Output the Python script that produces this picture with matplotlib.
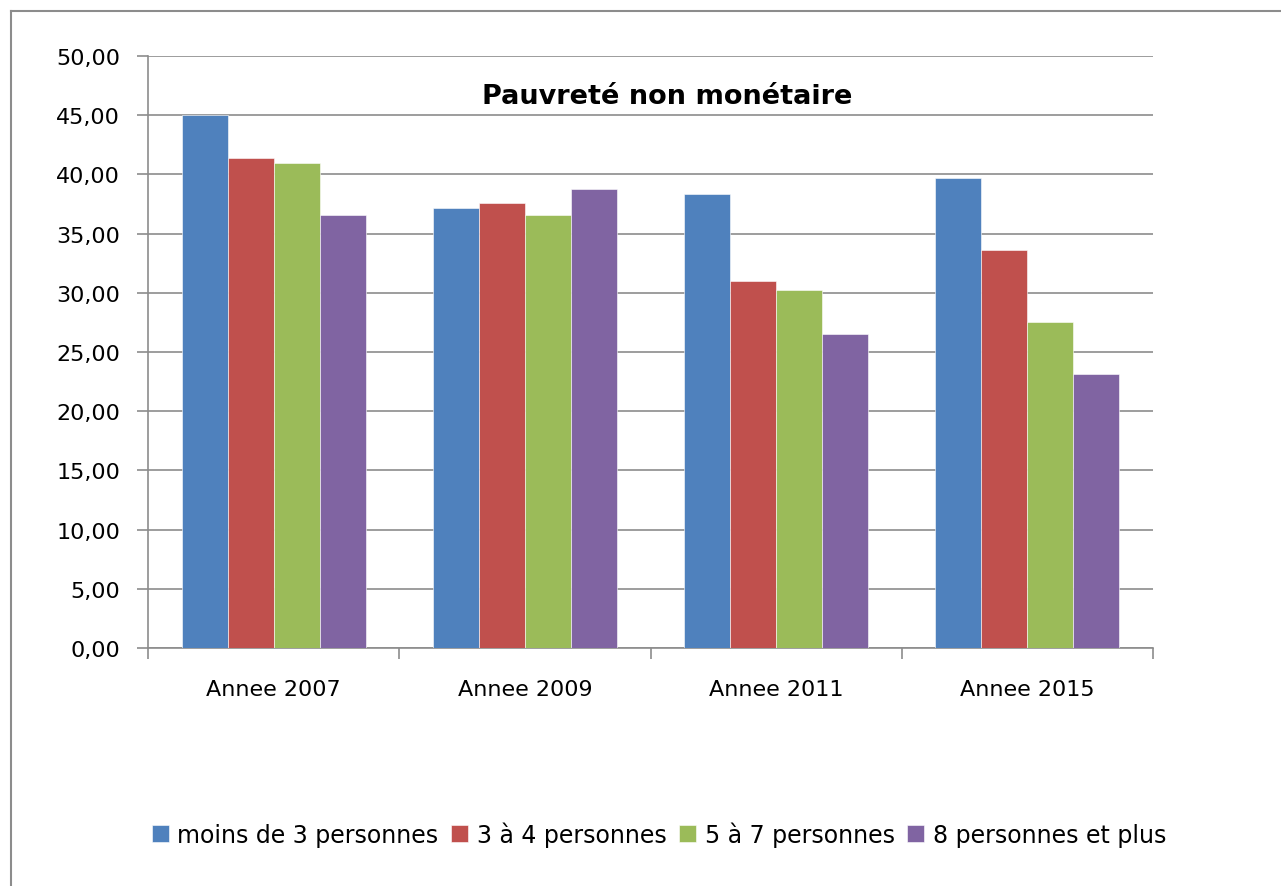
import numpy as np
from matplotlib import pyplot as plt
from matplotlib.lines import Line2D

years = ["Annee 2007", "Annee 2009", "Annee 2011", "Annee 2015"]
series = ["moins de 3 personnes", "3 à 4 personnes", "5 à 7 personnes", "8 personnes et plus"]
moins_3 = [45.0, 37.2, 38.35, 39.7]
de_3_a_4 = [41.4, 37.6, 31.0, 33.6]
de_5_a_7 = [41.0, 36.6, 30.25, 27.5]
plus_8 = [36.6, 38.8, 26.5, 23.1]
colors = ['#4F81BD', '#C0504D', '#9BBB59', '#8064A2']

values = [moins_3, de_3_a_4, de_5_a_7, plus_8]

fig = plt.figure(figsize=(12.81, 8.87), dpi=100)
ax = fig.add_axes([148 / 1281, 1 - 649 / 887, (1153 - 148) / 1281, (649 - 57) / 887])

x = np.arange(len(years))
width = 0.183
for i, (vals, name, c) in enumerate(zip(values, series, colors)):
    ax.bar(x + (i - 1.5) * width, vals, width=width, color=c, label=name,
           edgecolor='white', linewidth=0.4, zorder=3)

ax.set_xlim(-0.5, len(years) - 0.5)
ax.set_ylim(0, 50)
ax.set_yticks(np.arange(0, 51, 5))
ax.set_yticklabels([f"{v:.2f}".replace('.', ',') for v in np.arange(0, 51, 5)], fontsize=16)
ax.grid(axis='y', color='#8c8c8c', linewidth=1.2, zorder=0)

ax.set_xticks(x)
ax.set_xticklabels(years, fontsize=16)
ax.set_xticks(np.arange(-0.5, len(years)), minor=True)
ax.tick_params(axis='x', which='major', length=0, pad=22)
ax.tick_params(axis='x', which='minor', length=8, color='#8c8c8c', width=1.2)
ax.tick_params(axis='y', length=8, color='#8c8c8c', width=1.2, pad=12)

for s in ['top', 'right']:
    ax.spines[s].set_visible(False)
for s in ['left', 'bottom']:
    ax.spines[s].set_color('#8c8c8c')
    ax.spines[s].set_linewidth(1.2)

fig.text(667 / 1281, 1 - 97 / 887, "Pauvreté non monétaire", ha='center', va='center',
         fontsize=19.5, fontweight='bold')

fig.legend(loc='center', bbox_to_anchor=(659 / 1281, 1 - 835 / 887), ncol=4, frameon=False,
           fontsize=17, handlelength=0.72, handleheight=0.72, handletextpad=0.35,
           columnspacing=0.55)

# chart border (top and left visible)
fig.add_artist(Line2D([11 / 1281, 11 / 1281], [0, 1 - 12 / 887], transform=fig.transFigure,
                      color='#8c8c8c', linewidth=1.5))
fig.add_artist(Line2D([11 / 1281, 1], [1 - 12 / 887, 1 - 12 / 887], transform=fig.transFigure,
                      color='#8c8c8c', linewidth=1.5))

plt.savefig("out.png", dpi=100)
plt.close()
